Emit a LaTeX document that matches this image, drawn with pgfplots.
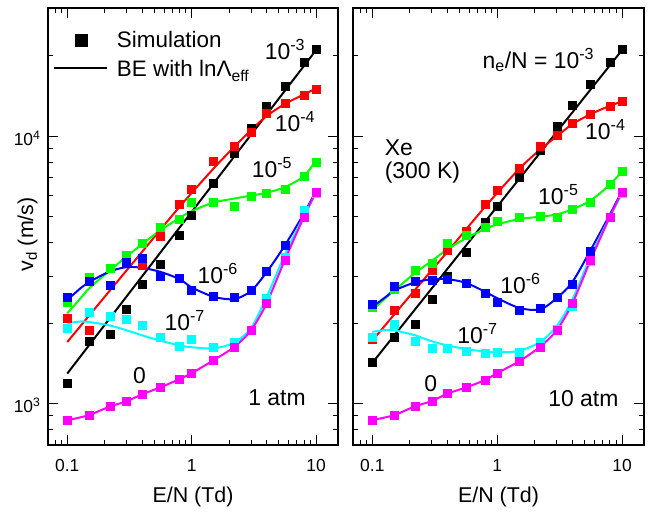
\documentclass[border=0pt]{standalone}
\usepackage{fontspec}
\setmainfont{Liberation Sans}
\usepackage{pgfplots}
\usepackage{pgfplotstable}
\pgfplotsset{compat=1.18}

\definecolor{ored}{RGB}{255,0,0}
\definecolor{ogreen}{RGB}{0,255,0}
\definecolor{oblue}{RGB}{0,0,255}
\definecolor{ocyan}{RGB}{0,255,255}
\definecolor{omag}{RGB}{255,0,255}

\newcommand\ann{\fontsize{23}{27}\selectfont}
\newcommand\lab{\fontsize{21.5}{26}\selectfont}
\newcommand\leg{\fontsize{22.5}{27}\selectfont}

% simulation points, 1 atm
\pgfplotstableread{
x     k     r     g     b     c     m
0.1   1194  2080  2400  2510  1920  866
0.15  1714  1880  2960  2880  2190  905
0.22  1812  3200  3200  2770  2130  975
0.3   2250  3450  3590  3390  2070  1020
0.4   2800  3300  3970  3490  1965  1083
0.56  3330  4230  4550  3000  1776  1150
0.8   4270  5570  4900  2940  1640  1235
1     5070  6325  5690  2650  1745  1300
1.5   6700  8040  5690  2530  1630  1453
2.2   8630  9200  5460  2500  1700  1630
3     10720 10400 5980  2660  1880  1880
4     12920 12190 6100  3130  2470  2370
5.6   15360 13300 6320  3920  3540  3440
8     18880 14280 7080  5220  5300  5000
10    21200 15000 8020  6200  6150  6200
}\simL

% BE curves, 1 atm
\pgfplotstableread{
x     g     b     c     m
0.1   2175  2440  2000  866
0.13  2500  2720  2030  890
0.15  2700  2850  2020  905
0.22  3150  3120  1960  975
0.3   3550  3240  1880  1020
0.4   3950  3220  1800  1083
0.56  4450  3110  1720  1150
0.8   4950  2920  1650  1235
1     5250  2720  1625  1300
1.5   5650  2510  1610  1453
2.2   5850  2460  1690  1630
3     6000  2640  1920  1880
4     6150  3100  2500  2370
5.6   6450  3900  3600  3440
8     7100  5150  5050  5000
10    8150  6250  6150  6200
}\fitL
\pgfplotstableread{
x     r
0.1   1700
0.2   2510
0.4   3700
0.8   5450
1.5   7580
2.2   9130
3     10550
4     11900
5.6   13200
8     14350
10    15100
}\redL

% simulation points, 10 atm
\pgfplotstableread{
x     k     r     g     b     c     m
0.1   1432  1740  2300  2360  1770  866
0.15  1775  2240  2680  2750  1980  904
0.22  1980  2595  3150  2875  1710  977
0.3   2450  3150  3350  2890  1610  1022
0.4   3000  3750  3975  2930  1607  1090
0.56  3700  4400  4270  2830  1575  1148
0.8   4750  5580  4570  2595  1540  1225
1     5480  6260  4820  2400  1560  1300
1.5   7000  7590  4980  2236  1560  1440
2.2   8900  9150  5040  2270  1700  1630
3     10930 10120 5000  2500  1900  1882
4     13090 11190 5350  2800  2320  2370
5.6   15700 12110 5690  3720  3400  3440
8     18880 12990 6610  5000  5000  5000
10    21180 13480 7400  6200  6100  6200
}\simR

% BE curves, 10 atm
\pgfplotstableread{
x     g     b     c     m
0.1   2236  2300  1855  866
0.13  2500  2520  1885  890
0.15  2650  2650  1880  904
0.22  3080  2840  1800  977
0.3   3420  2920  1710  1022
0.4   3780  2920  1650  1090
0.56  4150  2830  1600  1148
0.8   4500  2620  1565  1225
1     4680  2480  1555  1300
1.5   4900  2280  1575  1440
2.2   5000  2250  1700  1630
3     5100  2480  1950  1882
4     5330  2850  2450  2370
5.6   5750  3750  3550  3440
8     6600  5100  5000  5000
10    7400  6250  6100  6200
}\fitR
\pgfplotstableread{
x     r
0.1   1720
0.2   2530
0.4   3700
0.8   5450
1.5   7550
2.2   8900
3     10000
4     11100
5.6   12100
8     13000
10    13500
}\redR

\pgfplotsset{
  simpts/.style={forget plot, only marks, mark=square*, mark size=4bp, color=#1},
  fitline/.style={forget plot, no marks, smooth, line width=2pt, color=#1},
}

\begin{document}
\begin{tikzpicture}
\path[use as bounding box] (0,0) rectangle (655bp,514bp);

\begin{axis}[at={(48bp,69bp)}, anchor=south west,
  scale only axis, width=290bp, height=437bp,
  xmode=log, ymode=log,
  xmin=0.07, xmax=15, ymin=700, ymax=30200,
  xtick={0.1,1,10}, xticklabels={0.1,1,10},
  minor xtick={0.08,0.09,0.2,0.3,0.4,0.5,0.6,0.7,0.8,0.9,2,3,4,5,6,7,8,9},
  ytick={1000,10000},
  yticklabels={10\textsuperscript{3},10\textsuperscript{4}},
  minor ytick={800,900,2000,3000,4000,5000,6000,7000,8000,9000,20000,30000},
  tick align=inside,
  major tick length=10bp, minor tick length=5bp,
  tick style={black, line width=1pt},
  axis line style={line width=1.6pt},
  tick label style={font=\fontsize{17.5}{21}\selectfont},
  xticklabel style={yshift=-10.5bp},
  yticklabel style={xshift=-4bp, yshift=-2bp},
  clip=false,
]
\addplot[simpts=black] table[x=x,y=k]{\simL};
\addplot[simpts=ored] table[x=x,y=r]{\simL};
\addplot[simpts=ogreen] table[x=x,y=g]{\simL};
\addplot[simpts=oblue] table[x=x,y=b]{\simL};
\addplot[simpts=ocyan] table[x=x,y=c]{\simL};
\addplot[simpts=omag] table[x=x,y=m]{\simL};
\addplot[fitline=black, sharp plot] coordinates {(0.1,1295) (10,21000)};
\addplot[fitline=ored] table[x=x,y=r]{\redL};
\addplot[fitline=ogreen] table[x=x,y=g]{\fitL};
\addplot[fitline=oblue] table[x=x,y=b]{\fitL};
\addplot[fitline=ocyan] table[x=x,y=c]{\fitL};
\addplot[fitline=omag] table[x=x,y=m]{\fitL};

% legend keys
\addplot[forget plot, only marks, mark=square*, mark size=6bp, black] coordinates {(0.1285,22950)};
\addplot[forget plot, black, line width=2pt, sharp plot] coordinates {(0.0786,18070) (0.210,18070)};
\node[font=\leg, anchor=base west] at (axis cs:0.235,21540) {Simulation};
\node[font=\leg, anchor=base west] at (axis cs:0.235,16680) {BE with lnΛ\textsubscript{eff}};

\node[font=\ann] at (axis cs:5.62,21050) {10\textsuperscript{-3}};
\node[font=\ann] at (axis cs:6.77,11310) {10\textsuperscript{-4}};
\node[font=\ann] at (axis cs:4.42,7605) {10\textsuperscript{-5}};
\node[font=\ann] at (axis cs:1.62,3076) {10\textsuperscript{-6}};
\node[font=\ann] at (axis cs:0.878,2051) {10\textsuperscript{-7}};
\node[font=\ann] at (axis cs:0.381,1276) {0};
\node[font=\ann] at (axis cs:4.85,1056) {1 atm};

\node[font=\lab, yshift=-52bp] at (rel axis cs:0.5,0) {E/N (Td)};
\node[font=\lab, rotate=90, xshift=-8bp, yshift=20.5bp] at (rel axis cs:0,0.5) {v\textsubscript{d} (m/s)};
\end{axis}

\begin{axis}[at={(353bp,69bp)}, anchor=south west,
  scale only axis, width=291bp, height=437bp,
  xmode=log, ymode=log,
  xmin=0.07, xmax=15, ymin=700, ymax=30200,
  xtick={0.1,1,10}, xticklabels={0.1,1,10},
  minor xtick={0.08,0.09,0.2,0.3,0.4,0.5,0.6,0.7,0.8,0.9,2,3,4,5,6,7,8,9},
  ytick={1000,10000},
  yticklabels={},
  minor ytick={800,900,2000,3000,4000,5000,6000,7000,8000,9000,20000,30000},
  tick align=inside,
  major tick length=10bp, minor tick length=5bp,
  tick style={black, line width=1pt},
  axis line style={line width=1.6pt},
  tick label style={font=\fontsize{17.5}{21}\selectfont},
  xticklabel style={yshift=-10.5bp},
  clip=false,
]
\addplot[simpts=black] table[x=x,y=k]{\simR};
\addplot[simpts=ored] table[x=x,y=r]{\simR};
\addplot[simpts=ogreen] table[x=x,y=g]{\simR};
\addplot[simpts=oblue] table[x=x,y=b]{\simR};
\addplot[simpts=ocyan] table[x=x,y=c]{\simR};
\addplot[simpts=omag] table[x=x,y=m]{\simR};
\addplot[fitline=black, sharp plot] coordinates {(0.1,1420) (10,21000)};
\addplot[fitline=ored] table[x=x,y=r]{\redR};
\addplot[fitline=ogreen] table[x=x,y=g]{\fitR};
\addplot[fitline=oblue] table[x=x,y=b]{\fitR};
\addplot[fitline=ocyan] table[x=x,y=c]{\fitR};
\addplot[fitline=omag] table[x=x,y=m]{\fitR};

\node[font=\ann] at (axis cs:2.14,19310) {n\textsubscript{e}/N = 10\textsuperscript{-3}};
\node[font=\ann] at (axis cs:7.35,10560) {10\textsuperscript{-4}};
\node[font=\ann, anchor=west] at (axis cs:0.118,9040) {Xe};
\node[font=\ann, anchor=west] at (axis cs:0.118,7290) {(300 K)};
\node[font=\ann] at (axis cs:3.09,6030) {10\textsuperscript{-5}};
\node[font=\ann] at (axis cs:1.536,2822) {10\textsuperscript{-6}};
\node[font=\ann] at (axis cs:0.696,1834) {10\textsuperscript{-7}};
\node[font=\ann] at (axis cs:0.293,1191) {0};
\node[font=\ann] at (axis cs:4.90,1047) {10 atm};

\node[font=\lab, yshift=-52bp] at (rel axis cs:0.5,0) {E/N (Td)};
\end{axis}
\end{tikzpicture}
\end{document}
